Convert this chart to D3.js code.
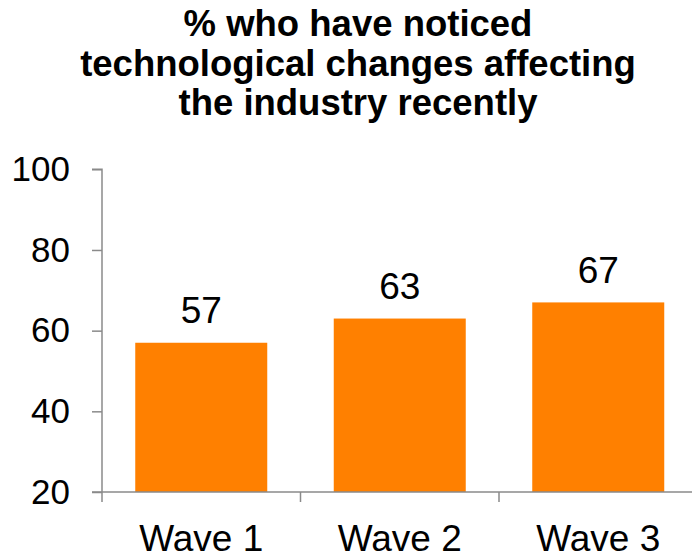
<!DOCTYPE html>
<html>
<head>
<meta charset="utf-8">
<script src="https://cdn.jsdelivr.net/npm/d3@7"></script>
<style>
  body { margin: 0; background: #fff; overflow: hidden; }
  svg { display: block; font-family: "Liberation Sans", Arial, sans-serif; }
</style>
</head>
<body>
<svg id="chart" width="692" height="553"></svg>
<script>
// chart data
const categories = ["Wave 1", "Wave 2", "Wave 3"];
const values = [57, 63, 67];
const yTicks = [20, 40, 60, 80, 100];
const titleLines = ["% who have noticed", "technological changes affecting", "the industry recently"];

const svg = d3.select("#chart");
const axisColor = "#8a8a8a";

// plot area bounds (picked to line up with the reference)
const plotLeft = 102, plotRight = 697.5, plotTop = 169.3, plotBottom = 492;

const x = d3.scaleBand()
  .domain(categories)
  .range([plotLeft, plotRight])
  .paddingInner(0.335)
  .paddingOuter(0.1675);

const y = d3.scaleLinear().domain([20, 100]).range([plotBottom, plotTop]);

// title
const title = svg.append("text")
  .attr("text-anchor", "middle")
  .style("font-weight", "bold")
  .style("font-size", "36.5px")
  .style("fill", "#000");
titleLines.forEach((line, i) => {
  title.append("tspan")
    .attr("x", 358)
    .attr("y", 36 + i * 39.5)
    .text(line);
});

// bars
svg.selectAll(".bar")
  .data(values)
  .join("rect")
  .attr("class", "bar")
  .attr("x", (d, i) => x(categories[i]))
  .attr("y", d => y(d))
  .attr("width", x.bandwidth())
  .attr("height", d => y(20) - y(d))
  .style("fill", "#ff8000");

// value labels
svg.selectAll(".val")
  .data(values)
  .join("text")
  .attr("class", "val")
  .attr("x", (d, i) => x(categories[i]) + x.bandwidth() / 2)
  .attr("y", d => y(d) - 19.6)
  .attr("text-anchor", "middle")
  .style("font-size", "37px")
  .style("fill", "#000")
  .text(d => d);

// y axis
const yAxis = svg.append("g")
  .attr("transform", `translate(${plotLeft},0)`)
  .call(d3.axisLeft(y).tickValues(yTicks).tickSize(10).tickPadding(22));
yAxis.select(".domain").attr("stroke", axisColor).attr("stroke-width", 1.5)
  .attr("d", `M-10,${plotTop}H0V${plotBottom}`);
yAxis.selectAll(".tick line").attr("stroke", axisColor).attr("stroke-width", 1.5);
yAxis.selectAll(".tick text")
  .style("font-size", "35px")
  .style("font-family", "Liberation Sans, Arial, sans-serif")
  .attr("fill", "#000");

// x axis, ticks on band boundaries
const xAxis = svg.append("g")
  .attr("transform", `translate(0,${plotBottom})`);
xAxis.append("line")
  .attr("x1", plotLeft - 10).attr("x2", plotRight)
  .attr("stroke", axisColor).attr("stroke-width", 1.5);
const boundaries = categories.map(c => x(c) - x.step() * x.paddingInner() / 2);
xAxis.selectAll(".xtick")
  .data(boundaries)
  .join("line")
  .attr("class", "xtick")
  .attr("x1", d => d).attr("x2", d => d)
  .attr("y1", 0).attr("y2", 10)
  .attr("stroke", axisColor).attr("stroke-width", 1.5);
xAxis.selectAll(".xlab")
  .data(categories)
  .join("text")
  .attr("class", "xlab")
  .attr("x", d => x(d) + x.bandwidth() / 2)
  .attr("y", 59)
  .attr("text-anchor", "middle")
  .style("font-size", "37px")
  .style("fill", "#000")
  .text(d => d);
</script>
</body>
</html>
